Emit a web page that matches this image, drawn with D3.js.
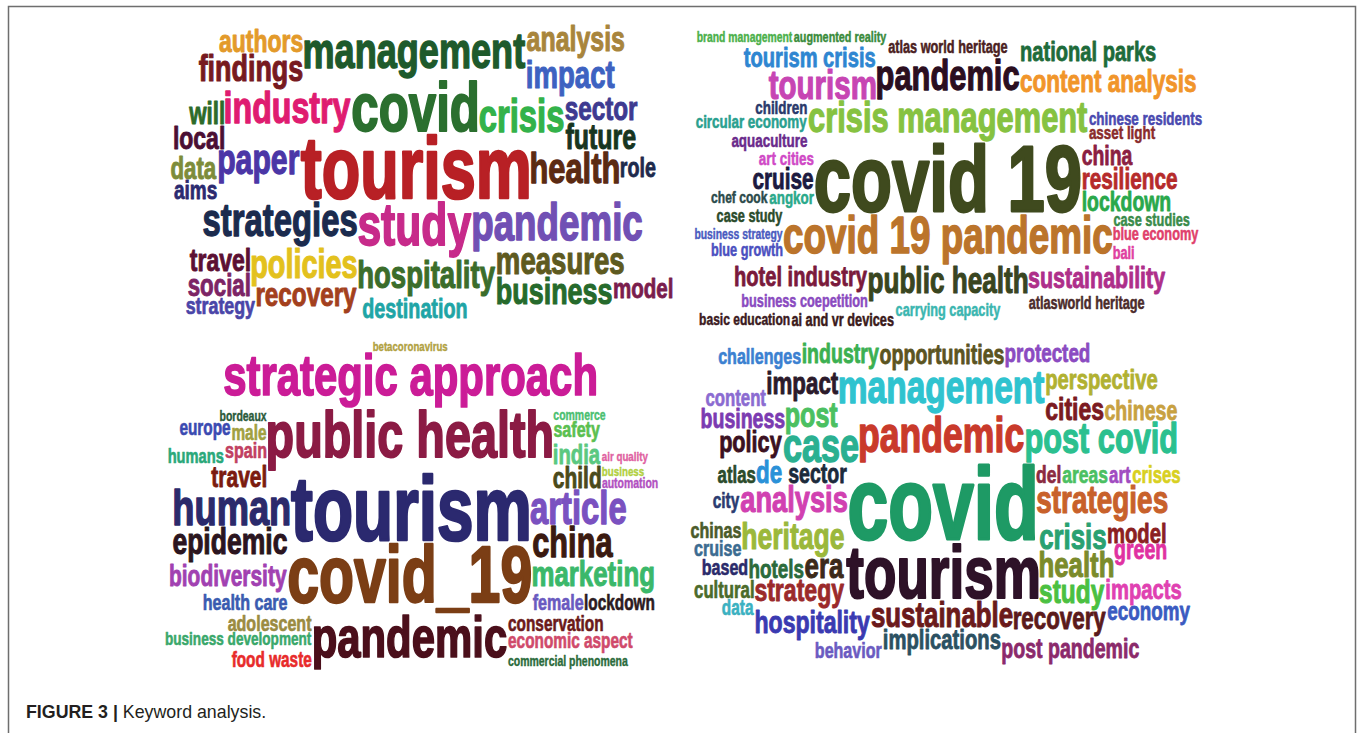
<!DOCTYPE html>
<html>
<head>
<meta charset="utf-8">
<script src="https://cdn.jsdelivr.net/npm/d3@7"></script>
<style>
  body { margin: 0; background: #fff; }
  svg { display: block; }
</style>
</head>
<body>
<svg id="fig" width="1357" height="733"></svg>
<script>
// ---- panel 1 (top left) ----
const p1Words = ["tourism", "covid", "study", "pandemic", "management", "strategies", "crisis", "industry",
  "health", "paper", "policies", "hospitality", "impact", "measures", "findings", "business", "future",
  "analysis", "sector", "recovery", "travel", "authors", "local", "will", "destination", "social", "data",
  "model", "strategy", "role", "aims"];
const p1Freq = [96, 75, 65, 56, 55, 50, 50, 49, 47, 46, 44, 42, 42, 42, 41, 41, 38, 38, 37, 37, 35, 35, 35,
  34, 34, 34, 34, 34, 32, 30, 29];
const p1Colors = ["#b82025", "#2b6f2f", "#c72a8a", "#7150b4", "#1e5a2c", "#1b2b4e", "#33b24a", "#df1c70",
  "#5b2a12", "#4b36a6", "#e3c11d", "#3b6d2b", "#3d62c1", "#5e5a1f", "#771a1f", "#266a2c", "#173520",
  "#a8853c", "#3e3a90", "#a3401d", "#5c1033", "#e39a2a", "#4b0f33", "#2d6b2a", "#1fa5a6", "#7c2465",
  "#7d8c3a", "#7a1d4d", "#4a45a8", "#1e2a4d", "#2b2a70"];

// ---- panel 2 (top right) ----
const p2Words = ["covid 19", "covid 19 pandemic", "crisis management", "pandemic", "tourism", "public health",
  "content analysis", "sustainability", "resilience", "cruise", "hotel industry", "national parks",
  "tourism crisis", "lockdown", "china", "angkor", "art cities", "aquaculture", "asset light",
  "circular economy", "chinese residents", "children", "atlas world heritage", "business coepetition",
  "atlasworld heritage", "carrying capacity", "augmented reality", "brand management", "case study",
  "case studies", "ai and vr devices", "blue economy", "business strategy", "blue growth", "bali",
  "basic education", "chef cook"];
const p2Freq = [100, 55, 46, 46, 44, 39, 38, 32, 31, 31, 30, 30, 30, 29, 29, 20, 20, 20, 20, 20, 20, 20,
  19, 19, 19, 19, 19, 19, 19, 19, 19, 19, 19, 19, 19, 18, 18];
const p2Colors = ["#3f4a1e", "#bb742b", "#86c241", "#2b0e1f", "#c745b3", "#39451f", "#f1952a", "#ae2f8a",
  "#b62b2b", "#1c1a40", "#7a1a3b", "#1e6b3a", "#2e86d1", "#2aa84b", "#8b1f42", "#2aa98a", "#d049c6",
  "#6a2a8b", "#8a2b2b", "#2aa08f", "#4a4ab0", "#2a3a6b", "#4b2121", "#8a4bc0", "#4b2b2b", "#3bb6b0",
  "#3a8b3b", "#4bb04a", "#2b4b2b", "#3a8b4a", "#3b1a1a", "#e0406b", "#4a5bc0", "#4b50c0", "#e040a0",
  "#3b1a21", "#2b4b4b"];

// ---- panel 3 (bottom left) ----
const p3Words = ["tourism", "covid_19", "public health", "strategic approach", "pandemic", "human", "article",
  "china", "epidemic", "marketing", "biodiversity", "child", "travel", "india", "spain", "health care",
  "female", "adolescent", "safety", "male", "conservation", "economic aspect", "business development",
  "lockdown", "europe", "food waste", "humans", "bordeaux", "commercial phenomena", "commerce",
  "betacoronavirus", "automation", "business", "air quality"];
const p3Freq = [94, 82, 67, 60, 60, 52, 47, 44, 38, 37, 30, 30, 30, 29, 23, 23, 23, 23, 23, 22, 22, 22, 22,
  22, 22, 22, 21, 15, 15, 15, 15, 15, 14, 14];
const p3Colors = ["#2b296f", "#7b3e15", "#8b1b44", "#cb1c97", "#4b0f1b", "#2b2a6b", "#7a51c0", "#3b1a10",
  "#2b1520", "#3bb86a", "#a141b1", "#4b4a1a", "#7b1b10", "#5ac880", "#c14061", "#3a5bb0", "#6a5ac0",
  "#9b8b41", "#5bc050", "#a1a041", "#6b1a1a", "#d04a6b", "#3aa86b", "#2b1a21", "#3a4ab1", "#e82b2b",
  "#2aa87a", "#2a5a3a", "#2b6b3b", "#4bc071", "#b1a141", "#b151c1", "#b1d041", "#e061a1"];

// ---- panel 4 (bottom right) ----
const p4Words = ["covid", "tourism", "pandemic", "case", "management", "post covid", "strategies", "analysis",
  "heritage", "crisis", "health", "sustainable", "era", "post", "study", "strategy", "cities", "hospitality",
  "recovery", "de", "impact", "policy", "perspective", "model", "impacts", "implications", "opportunities",
  "business", "sector", "green", "chinese", "industry", "post pandemic", "protected", "hotels", "economy",
  "del", "areas", "art", "atlas", "crises", "content", "cultural", "behavior", "challenges", "based",
  "chinas", "cruise", "city", "data"];
const p4Freq = [105, 76, 51, 49, 48, 44, 40, 39, 38, 37, 37, 37, 37, 36, 35, 33, 33, 33, 32, 32, 32, 31,
  29, 29, 29, 29, 28, 28, 28, 28, 28, 28, 28, 27, 27, 27, 25, 25, 24, 24, 24, 24, 24, 23, 23, 23, 23, 23,
  22, 22];
const p4Colors = ["#1e9a65", "#2e1228", "#c93a2b", "#2ab091", "#2fc3cf", "#2bc08f", "#c8612b", "#d141b1",
  "#9bb83b", "#2aa171", "#7b8b2b", "#6b1a1b", "#3b2a1a", "#4bc061", "#4bc041", "#9b2a2b", "#7b1a21",
  "#3a3ab1", "#5b1a1b", "#2a91d8", "#2b1a2b", "#3b1021", "#b1b131", "#8b2021", "#e041b1", "#2b5061",
  "#5b5421", "#7b3bb1", "#1b2a3b", "#e031a1", "#c8a141", "#3bb051", "#8b2a6b", "#8b4bc1", "#2b6b3b",
  "#3a5bc1", "#8b2a41", "#4bc061", "#a14bc1", "#2b4b2b", "#d8d021", "#8b6bd1", "#4b6b2b", "#6b5bc1",
  "#3b81d1", "#2b2b6b", "#4b5b2b", "#3b6b91", "#2b3b71", "#3bb1c1"];

const panels = [
  { words: p1Words, freq: p1Freq, colors: p1Colors, box: { x: 156, y: 14, w: 518, h: 306 } },
  { words: p2Words, freq: p2Freq, colors: p2Colors, box: { x: 693, y: 30, w: 510, h: 296 } },
  { words: p3Words, freq: p3Freq, colors: p3Colors, box: { x: 162, y: 342, w: 496, h: 330 } },
  { words: p4Words, freq: p4Freq, colors: p4Colors, box: { x: 690, y: 338, w: 504, h: 329 } }
];

const FONT = '"Liberation Sans", Arial, Helvetica, sans-serif';
const SX = 0.72;     // squeeze the glyphs so they look condensed
const HEAVY = 0.03;  // extra outline, in em, to get the heavy look
const PAD = 1;

const fontSize = d3.scaleLinear().domain([0, 100]).range([0, 97]);

const ctx = document.createElement("canvas").getContext("2d");

// ink box of a word, relative to its text anchor
function inkBox(text, size) {
  ctx.font = `bold ${size}px ${FONT}`;
  const m = ctx.measureText(text);
  const o = size * HEAVY / 2;
  return {
    left: (m.actualBoundingBoxLeft + o) * SX,
    w: (m.actualBoundingBoxLeft + m.actualBoundingBoxRight + 2 * o) * SX,
    asc: m.actualBoundingBoxAscent + o,
    h: m.actualBoundingBoxAscent + m.actualBoundingBoxDescent + 2 * o
  };
}

function free(r, rects) {
  for (const p of rects) {
    if (r.x < p.x + p.w + PAD && p.x < r.x + r.w + PAD && r.y < p.y + p.h + PAD && p.y < r.y + r.h + PAD) return false;
  }
  return true;
}

// try spots flush against words already placed, keep the free one nearest the middle
// (superellipse distance so the cloud fills the corners of its box)
function findSpot(b, box, rects) {
  const W = box.w, H = box.h, e = W / H;
  const xs = [W / 2 - b.w / 2, 0, W - b.w];
  const ys = [H / 2 - b.h / 2, 0, H - b.h];
  for (const p of rects) {
    xs.push(p.x + p.w + PAD, p.x - b.w - PAD, p.x, p.x + p.w - b.w);
    ys.push(p.y + p.h + PAD, p.y - b.h - PAD, p.y, p.y + p.h - b.h);
  }
  let best = null, bestD = Infinity;
  for (const x of xs) {
    if (x < 0 || x + b.w > W) continue;
    const dx = (x + b.w / 2 - W / 2) / e;
    const dx4 = dx * dx * dx * dx;
    if (dx4 >= bestD) continue;
    for (const y of ys) {
      if (y < 0 || y + b.h > H) continue;
      const dy = y + b.h / 2 - H / 2;
      const d = dx4 + dy * dy * dy * dy;
      if (d >= bestD) continue;
      const r = { x, y, w: b.w, h: b.h };
      if (free(r, rects)) { best = r; bestD = d; }
    }
  }
  return best;
}

// place every word at k times its size; a word may shrink a few steps,
// and if it still finds no room the attempt fails (null)
function layout(panel, k, tries) {
  const { words, freq, box } = panel;
  const order = d3.range(words.length).sort((a, b) => freq[b] - freq[a] || a - b);
  const rects = [];
  const out = [];
  for (const i of order) {
    let size = fontSize(freq[i]) * k;
    let done = false;
    for (let attempt = 0; attempt < tries && !done; attempt++) {
      const b = inkBox(words[i], size);
      const r = findSpot(b, box, rects);
      if (r) {
        rects.push(r);
        out.push({
          text: words[i],
          color: panel.colors[i],
          size,
          x: box.x + r.x + b.left,
          y: box.y + r.y + b.asc
        });
        done = true;
      }
      size *= 0.96;
    }
    if (!done) return null;
  }
  return out;
}

function layoutPanel(panel) {
  for (const k of [1, 0.98, 0.96, 0.94, 0.92, 0.9, 0.88]) {
    const res = layout(panel, k, 7);
    if (res) return res;
  }
  return layout(panel, 0.88, 30) || [];
}

function draw() {
  const svg = d3.select("#fig");

  // figure frame
  svg.append("path")
    .attr("d", "M8.5,740 V6.5 H1355.5 V740")
    .attr("fill", "none")
    .attr("stroke", "#6e6e6e")
    .attr("stroke-width", 1.5);

  panels.forEach((panel, pi) => {
    const placed = layoutPanel(panel);
    svg.append("g")
      .attr("class", "cloud")
      .attr("id", "cloud" + (pi + 1))
      .selectAll("text")
      .data(placed)
      .join("text")
      .attr("transform", (d) => `translate(${d.x},${d.y}) scale(${SX},1)`)
      .attr("font-family", FONT)
      .attr("font-weight", "bold")
      .attr("font-size", (d) => d.size)
      .attr("fill", (d) => d.color)
      .attr("stroke", (d) => d.color)
      .attr("stroke-width", (d) => d.size * HEAVY)
      .attr("stroke-linejoin", "round")
      .text((d) => d.text);
  });

  const cap = svg.append("text")
    .attr("x", 26)
    .attr("y", 718)
    .attr("font-family", FONT)
    .attr("font-size", 17.8)
    .attr("fill", "#231f20");
  cap.append("tspan").attr("font-weight", "bold").text("FIGURE 3 | ");
  cap.append("tspan").text("Keyword analysis.");
}

if (document.fonts && document.fonts.load) {
  document.fonts.load(`bold 40px "Liberation Sans"`).then(draw, draw);
} else {
  draw();
}
</script>
</body>
</html>
